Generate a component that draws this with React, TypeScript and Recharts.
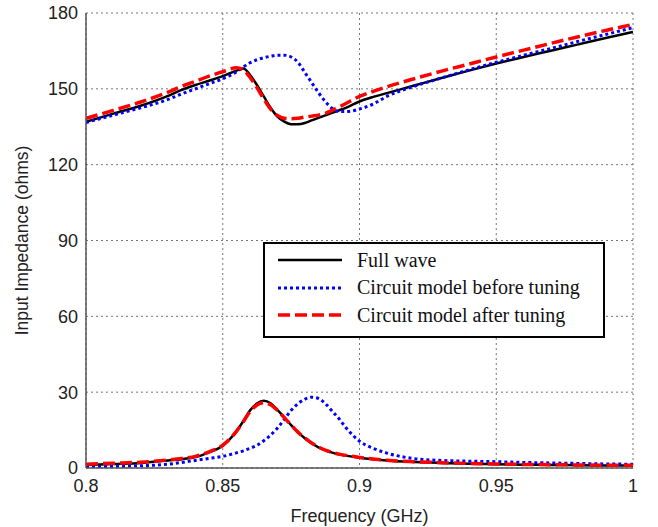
import React from "react";
import { LineChart, Line, XAxis, YAxis, CartesianGrid, Legend } from "recharts";

const freq = [0.8, 0.81, 0.82, 0.83, 0.835, 0.84, 0.845, 0.85, 0.855, 0.8575, 0.86, 0.8625, 0.865, 0.8675, 0.87, 0.8725, 0.875, 0.8775, 0.88, 0.8825, 0.885, 0.8875, 0.89, 0.8925, 0.895, 0.9, 0.905, 0.91, 0.92, 0.93, 0.94, 0.95, 0.96, 0.97, 0.98, 0.99, 1.0];

const fullWaveUpper = [137, 140.2, 143.3, 147.2, 149.6, 151.5, 153.2, 155, 157.2, 158, 155.5, 151.5, 147, 142.5, 139, 137, 136, 136, 136.5, 137.5, 138.5, 139.5, 140.5, 141.5, 142.5, 145, 146.8, 148.3, 151.3, 154.3, 157.2, 160, 162.6, 165.1, 167.6, 170.1, 172.5];
const beforeUpper = [136.7, 139.6, 142.5, 145.8, 148, 150, 152, 154, 156.7, 158.6, 160.3, 161.5, 162.3, 162.9, 163.3, 163.3, 162.6, 160.5, 156.5, 152.5, 148.5, 145, 142.3, 141, 141, 142, 144, 147, 151, 154.3, 157.5, 160.5, 163.3, 166, 168.8, 171.5, 174.2];
const afterUpper = [138.3, 141.5, 144.8, 148.7, 151, 153, 155, 156.8, 158.3, 157.5, 154.5, 150.5, 146, 142, 139.5, 138.4, 138.2, 138.4, 138.8, 139.2, 139.6, 140.3, 141.5, 142.8, 144.2, 147, 149, 150.8, 154, 157, 159.8, 162.6, 165.3, 168, 170.6, 173.1, 175.5];

const fullWaveLower = [1.2, 1.6, 2.0, 3.0, 3.5, 4.3, 6.2, 8.8, 14.5, 18.5, 22.8, 25.5, 26.6, 25.6, 23, 20, 17, 14.2, 11.8, 9.8, 8.2, 7.0, 6.1, 5.4, 4.9, 4.1, 3.5, 3.0, 2.4, 2.0, 1.7, 1.5, 1.3, 1.2, 1.1, 1.0, 1.0];
const beforeLower = [0.4, 0.6, 0.9, 1.5, 2.2, 3.0, 3.8, 4.6, 6.0, 6.8, 7.8, 9.0, 10.8, 13.0, 15.8, 19.2, 22.8, 25.4, 27.2, 28.0, 27.5, 25.5, 22.5, 19.5, 16, 10.6, 7.8, 5.9, 3.7, 3.0, 2.7, 2.5, 2.2, 2.0, 1.8, 1.6, 1.5];
const afterLower = [1.5, 1.9, 2.3, 3.2, 3.8, 4.6, 6.4, 9.0, 14.5, 18.3, 22.3, 24.9, 25.8, 25.0, 22.8, 19.9, 17, 14.2, 11.9, 9.9, 8.3, 7.1, 6.2, 5.5, 5.0, 4.2, 3.6, 3.1, 2.5, 2.1, 1.8, 1.6, 1.4, 1.3, 1.2, 1.1, 1.1];

const xTicks = [0.8, 0.85, 0.9, 0.95, 1];
const yTicks = [0, 30, 60, 90, 120, 150, 180];

const seriesNames = ["Full wave", "Circuit model before tuning", "Circuit model after tuning"];
const seriesColors = ["#000000", "#0000ff", "#ff0000"];
const seriesDash = ["", "3 3", "12 5"];
const seriesWidth = [2.5, 3, 3.5];

const data = freq.map((f, i) => ({
  f,
  fwU: fullWaveUpper[i],
  bU: beforeUpper[i],
  aU: afterUpper[i],
  fwL: fullWaveLower[i],
  bL: beforeLower[i],
  aL: afterLower[i],
}));

const LegendBox = () => (
  <div
    style={{
      width: 338,
      height: 92,
      border: "2px solid #000",
      background: "#fff",
      position: "relative",
      fontFamily: '"Liberation Serif", "Times New Roman", serif',
      fontSize: 20,
      color: "#111",
    }}
  >
    {seriesNames.map((name, i) => (
      <div
        key={name}
        style={{
          position: "absolute",
          left: 13,
          top: 5 + i * 27.5,
          height: 22,
          display: "flex",
          alignItems: "center",
          whiteSpace: "nowrap",
        }}
      >
        <svg width={64} height={6}>
          <line
            x1={0}
            y1={3}
            x2={64}
            y2={3}
            stroke={seriesColors[i]}
            strokeWidth={seriesWidth[i]}
            strokeDasharray={seriesDash[i] || undefined}
          />
        </svg>
        <span style={{ marginLeft: 15 }}>{name}</span>
      </div>
    ))}
  </div>
);

const sans = '"Liberation Sans", Arial, sans-serif';
const tickStyle = { fontFamily: sans, fontSize: 18, fill: "#222" };

export default function App() {
  return (
    <div style={{ position: "absolute", left: 0, top: 0, width: 658, height: 527, background: "#fff" }}>
      <LineChart width={658} height={527} data={data} margin={{ top: 13, right: 25, left: 0, bottom: 0 }}>
        <CartesianGrid xAxisId="b" yAxisId="l" stroke="#777" strokeDasharray="2 3" strokeWidth={1} />
        <XAxis
          xAxisId="b"
          dataKey="f"
          type="number"
          domain={[0.8, 1]}
          ticks={xTicks}
          tickFormatter={(v) => String(v)}
          height={59}
          tickSize={0}
          tickMargin={11}
          tick={tickStyle}
          axisLine={{ stroke: "#555", strokeWidth: 1.5 }}
          allowDataOverflow
          label={{
            value: "Frequency (GHz)",
            position: "insideBottom",
            offset: 5,
            style: { fontFamily: sans, fontSize: 18, fill: "#222" },
          }}
        />
        <XAxis
          xAxisId="t"
          dataKey="f"
          type="number"
          orientation="top"
          domain={[0.8, 1]}
          ticks={xTicks}
          height={0}
          tick={false}
          axisLine={{ stroke: "#555", strokeWidth: 1.5 }}
          allowDataOverflow
        />
        <YAxis
          yAxisId="l"
          type="number"
          domain={[0, 180]}
          ticks={yTicks}
          width={86}
          tickSize={0}
          tickMargin={8}
          tick={tickStyle}
          axisLine={{ stroke: "#555", strokeWidth: 1.5 }}
          allowDataOverflow
          label={{
            value: "Input Impedance (ohms)",
            angle: -90,
            position: "insideLeft",
            offset: 22,
            style: { textAnchor: "middle", fontFamily: sans, fontSize: 17.5, fill: "#222" },
          }}
        />
        <YAxis
          yAxisId="r"
          type="number"
          orientation="right"
          domain={[0, 180]}
          ticks={yTicks}
          width={0}
          tick={false}
          axisLine={{ stroke: "#555", strokeWidth: 1.5 }}
          allowDataOverflow
        />
        <Line xAxisId="b" yAxisId="l" type="monotone" dataKey="fwU" stroke={seriesColors[0]} strokeWidth={seriesWidth[0]} dot={false} isAnimationActive={false} legendType="none" />
        <Line xAxisId="b" yAxisId="l" type="monotone" dataKey="fwL" stroke={seriesColors[0]} strokeWidth={seriesWidth[0]} dot={false} isAnimationActive={false} legendType="none" />
        <Line xAxisId="b" yAxisId="l" type="monotone" dataKey="bU" stroke={seriesColors[1]} strokeWidth={seriesWidth[1]} strokeDasharray={seriesDash[1]} dot={false} isAnimationActive={false} legendType="none" />
        <Line xAxisId="b" yAxisId="l" type="monotone" dataKey="bL" stroke={seriesColors[1]} strokeWidth={seriesWidth[1]} strokeDasharray={seriesDash[1]} dot={false} isAnimationActive={false} legendType="none" />
        <Line xAxisId="b" yAxisId="l" type="monotone" dataKey="aU" stroke={seriesColors[2]} strokeWidth={seriesWidth[2]} strokeDasharray={seriesDash[2]} dot={false} isAnimationActive={false} legendType="none" />
        <Line xAxisId="b" yAxisId="l" type="monotone" dataKey="aL" stroke={seriesColors[2]} strokeWidth={seriesWidth[2]} strokeDasharray={seriesDash[2]} dot={false} isAnimationActive={false} legendType="none" />
        <Legend
          layout="vertical"
          align="center"
          verticalAlign="middle"
          content={() => <LegendBox />}
          wrapperStyle={{ left: 263, top: 242, width: 342, height: 96 }}
        />
      </LineChart>
    </div>
  );
}
